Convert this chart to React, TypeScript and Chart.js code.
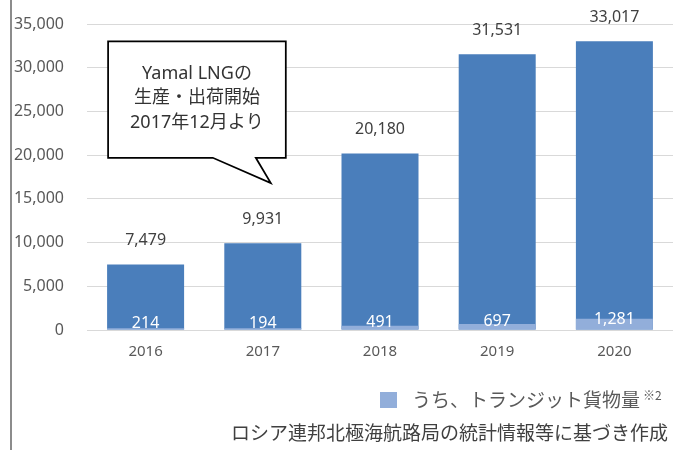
import React, { useEffect, useRef } from 'react';
import { Chart, registerables } from 'chart.js';

Chart.register(...registerables);

const categories = ['2016', '2017', '2018', '2019', '2020'];
const totalCargo = [7479, 9931, 20180, 31531, 33017];
const transitCargo = [214, 194, 491, 697, 1281];
const yMin = 0;
const yMax = 35000;
const yStep = 5000;
const calloutLines = ['Yamal LNGの', '生産・出荷開始', '2017年12月より'];
const legendLabel = 'うち、トランジット貨物量';
const legendNote = '※2';
const sourceNote = 'ロシア連邦北極海航路局の統計情報等に基づき作成';

const FONT = '"Noto Sans", "Noto Sans CJK JP", sans-serif';
const JP_FONT = '"Noto Sans CJK JP", "Noto Sans", sans-serif';
const TOTAL_COLOR = '#4A7EBB';
const TRANSIT_COLOR = '#92AEDA';

const fmt = (v: number) => v.toLocaleString('en-US');

const decorPlugin = {
  id: 'decor',
  afterDatasetsDraw(chart: any) {
    const ctx = chart.ctx;
    const totalMeta = chart.getDatasetMeta(1);
    const transitMeta = chart.getDatasetMeta(0);
    ctx.save();
    ctx.font = `16px ${FONT}`;
    ctx.textAlign = 'center';
    ctx.textBaseline = 'middle';
    totalMeta.data.forEach((bar: any, i: number) => {
      ctx.fillStyle = '#404040';
      ctx.fillText(fmt(totalCargo[i]), bar.x, bar.y - 24);
    });
    transitMeta.data.forEach((bar: any, i: number) => {
      ctx.fillStyle = '#ffffff';
      ctx.fillText(fmt(transitCargo[i]), bar.x, (bar.y + bar.base) / 2 - 5);
    });
    ctx.restore();
  },
  afterDraw(chart: any) {
    const ctx = chart.ctx;
    const xs = chart.scales.x;
    const ys = chart.scales.y;
    ctx.save();

    // left frame line
    ctx.fillStyle = '#8c8c8c';
    ctx.fillRect(10, 0, 2, chart.height);

    // callout
    const left = xs.getPixelForValue(0) - 37.5;
    const right = xs.getPixelForValue(1) + 23;
    const top = ys.getPixelForValue(33000);
    const bottom = ys.getPixelForValue(19700);
    const tipX = xs.getPixelForValue(1) + 8;
    const tipY = ys.getPixelForValue(16800);
    const baseA = tipX - 58;
    const baseB = tipX - 15;
    ctx.beginPath();
    ctx.moveTo(left, top);
    ctx.lineTo(right, top);
    ctx.lineTo(right, bottom);
    ctx.lineTo(baseB, bottom);
    ctx.lineTo(tipX, tipY);
    ctx.lineTo(baseA, bottom);
    ctx.lineTo(left, bottom);
    ctx.closePath();
    ctx.fillStyle = '#ffffff';
    ctx.fill();
    ctx.lineWidth = 1.75;
    ctx.strokeStyle = '#000000';
    ctx.lineJoin = 'miter';
    ctx.stroke();

    ctx.fillStyle = '#333333';
    ctx.font = `18px ${FONT}`;
    ctx.textAlign = 'center';
    ctx.textBaseline = 'middle';
    const cx = (left + right) / 2;
    calloutLines.forEach((line, i) => {
      ctx.fillText(line, cx, top + 32 + i * 24.5);
    });

    // legend
    ctx.fillStyle = TRANSIT_COLOR;
    ctx.fillRect(380, 392, 17, 16);
    ctx.fillStyle = '#595959';
    ctx.font = `19px ${JP_FONT}`;
    ctx.textAlign = 'left';
    ctx.textBaseline = 'middle';
    ctx.fillText(legendLabel, 412, 400);
    const w = ctx.measureText(legendLabel).width;
    ctx.font = `12px ${JP_FONT}`;
    ctx.fillText(legendNote, 412 + w + 3, 395);

    // source note
    ctx.fillStyle = '#404040';
    ctx.font = `19px ${JP_FONT}`;
    ctx.textAlign = 'right';
    ctx.fillText(sourceNote, 668, 433);
    ctx.restore();
  },
};

export default function App() {
  const canvasRef = useRef<HTMLCanvasElement | null>(null);

  useEffect(() => {
    document.body.style.margin = '0';
    const canvas = canvasRef.current;
    if (!canvas) return;
    const chart = new Chart(canvas, {
      type: 'bar',
      data: {
        labels: categories,
        datasets: [
          {
            label: legendLabel,
            data: transitCargo,
            backgroundColor: TRANSIT_COLOR,
            order: 0,
            barPercentage: 0.657,
            categoryPercentage: 1,
          },
          {
            label: 'total',
            data: totalCargo,
            backgroundColor: TOTAL_COLOR,
            order: 1,
            barPercentage: 0.657,
            categoryPercentage: 1,
          },
        ],
      },
      options: {
        responsive: false,
        animation: false,
        devicePixelRatio: 1,
        layout: { padding: { top: 24, left: 0, right: 0, bottom: 0 } },
        plugins: {
          legend: { display: false },
          tooltip: { enabled: false },
        },
        scales: {
          x: {
            stacked: true,
            grid: { display: false, drawTicks: false },
            border: { display: false },
            ticks: {
              color: '#595959',
              font: { size: 15, family: FONT },
              padding: 13,
            },
            afterFit: (scale: any) => {
              scale.height = 120;
            },
          },
          y: {
            stacked: false,
            min: yMin,
            max: yMax,
            grid: { color: '#d9d9d9', lineWidth: 1, drawTicks: false },
            border: { display: false },
            ticks: {
              stepSize: yStep,
              color: '#595959',
              font: { size: 16, family: FONT },
              padding: 23,
              callback: (v: any) => fmt(Number(v)),
            },
            afterFit: (scale: any) => {
              scale.width = 87;
              scale.paddingTop = 10;
              scale.paddingBottom = 10;
            },
          },
        },
      },
      plugins: [decorPlugin],
    });
    return () => chart.destroy();
  }, []);

  return (
    <div style={{ width: 673, height: 450, position: 'relative' }}>
      <canvas ref={canvasRef} width={673} height={450} style={{ display: 'block' }} />
    </div>
  );
}
